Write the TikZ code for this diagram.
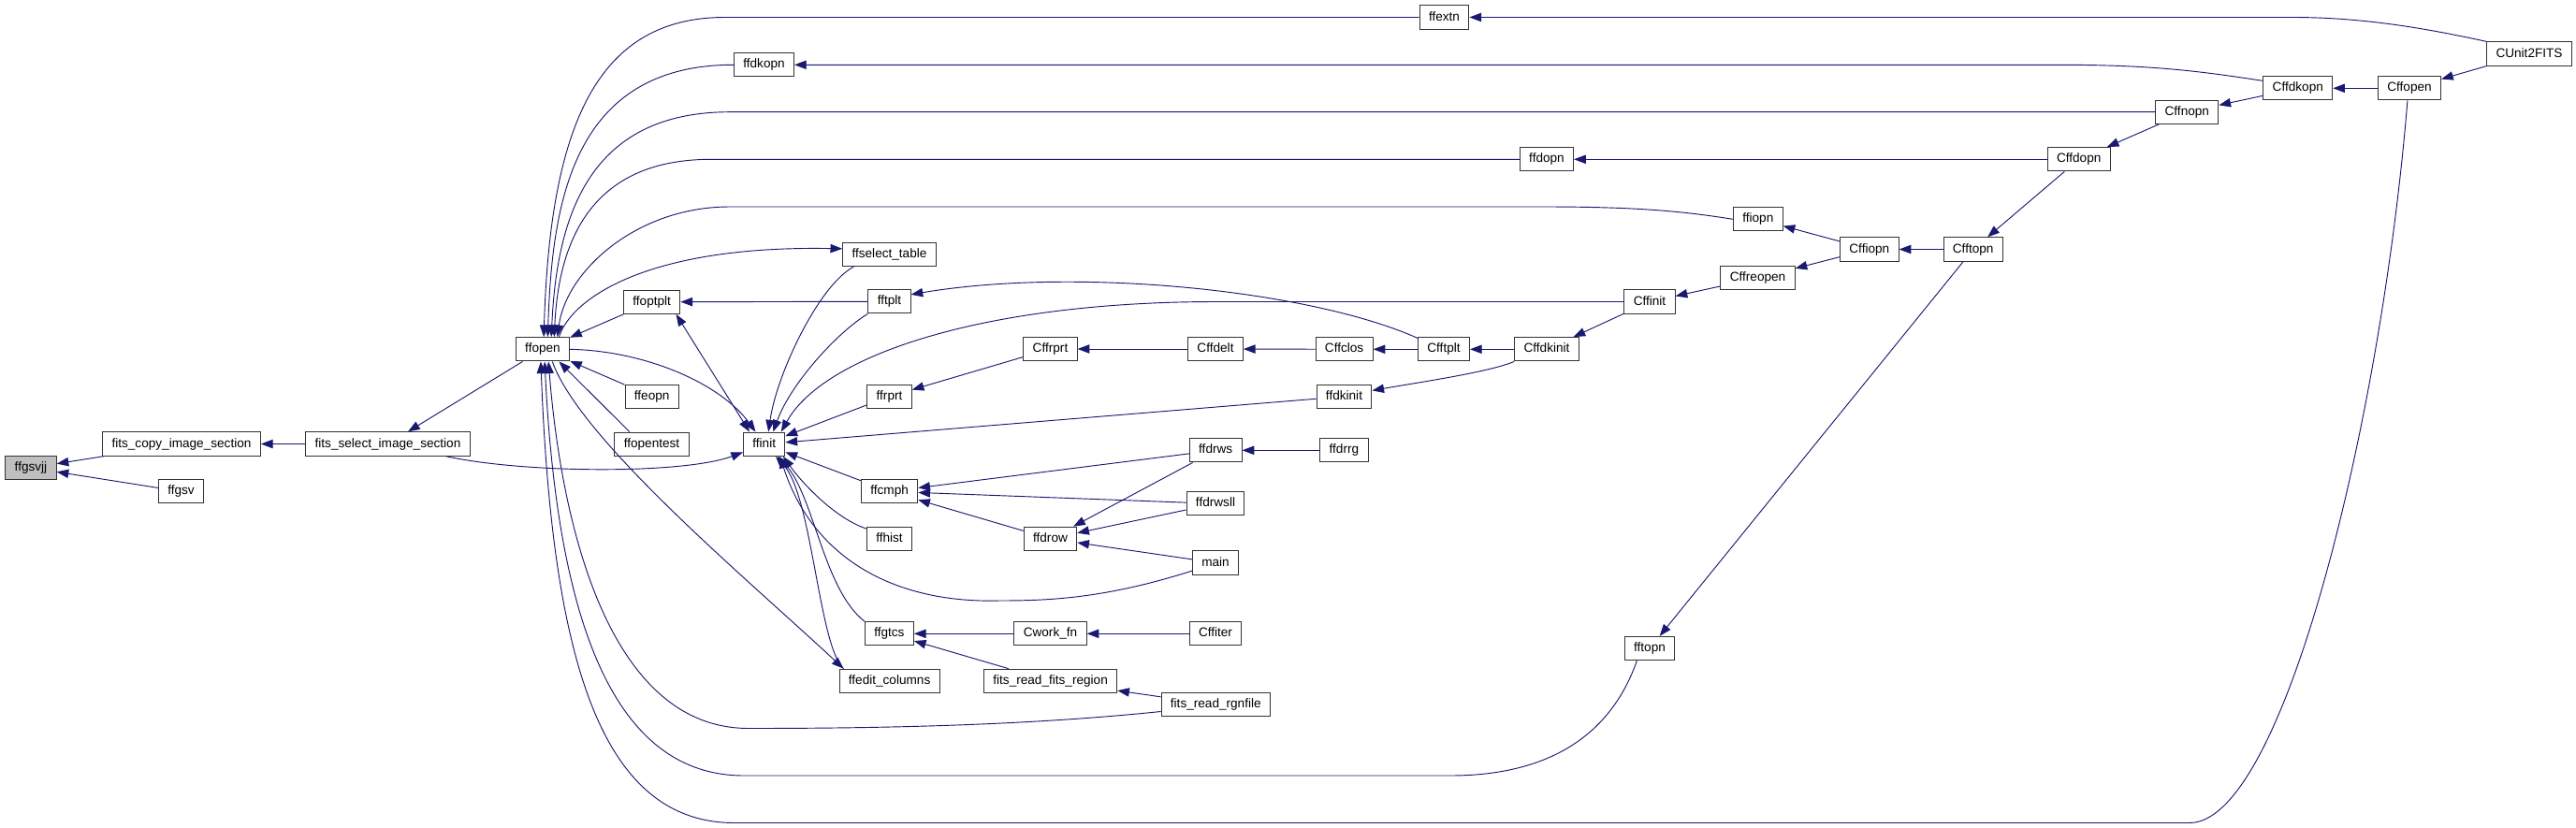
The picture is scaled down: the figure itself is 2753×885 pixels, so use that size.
\documentclass[tikz,border=0pt]{standalone}
\usepackage{fontspec}
\setmainfont{Liberation Sans}
\usetikzlibrary{arrows.meta}
\definecolor{midblue}{RGB}{25,25,112}
\definecolor{rootgray}{RGB}{191,191,191}
\begin{document}
\begin{tikzpicture}[>={Triangle[length=9.5pt,width=7pt]},x=0.75pt,y=-0.75pt,
	fn/.style={draw=black!80,line width=0.75pt,fill=white,font=\fontsize{10.2pt}{12pt}\selectfont,inner xsep=7.4pt,inner ysep=0pt,minimum height=19pt,text height=7.4pt,text depth=2pt},
	root/.style={fn,fill=rootgray},
	call/.style={draw=midblue,line width=0.7pt}]
	\fill[white] (0,0) rectangle (2753,885);
	%		nodes, left to right
	\node[root] (ffgsvjj) at (33,500) {ffgsvjj};
	\node[fn] (fcopy) at (194,474.5) {fits\_copy\_image\_section};
	\node[fn] (ffgsv) at (193.5,525.3) {ffgsv};
	\node[fn] (fselect) at (414.5,474.5) {fits\_select\_image\_section};
	\node[fn] (ffopen) at (580,373.3) {ffopen};
	\node[fn] (ffoptplt) at (696.7,322.7) {ffoptplt};
	\node[fn] (ffeopn) at (696.7,423.7) {ffeopn};
	\node[fn] (ffopentest) at (696.5,474.7) {ffopentest};
	\node[fn] (ffdkopn) at (816.5,69.3) {ffdkopn};
	\node[fn] (ffinit) at (816.7,474.7) {ffinit};
	\node[fn] (ffselect) at (950.5,272) {ffselect\_table};
	\node[fn] (fftplt) at (950.5,322.3) {fftplt};
	\node[fn] (ffrprt) at (950.5,423.7) {ffrprt};
	\node[fn] (ffcmph) at (950.6,525.3) {ffcmph};
	\node[fn] (ffhist) at (950.5,576) {ffhist};
	\node[fn] (ffgtcs) at (950.4,677.3) {ffgtcs};
	\node[fn] (ffeditcol) at (950.6,727.8) {ffedit\_columns};
	\node[fn] (Cffrprt) at (1122.5,373) {Cffrprt};
	\node[fn] (ffdrow) at (1122.5,575.8) {ffdrow};
	\node[fn] (Cworkfn) at (1122.5,677.3) {Cwork\_fn};
	\node[fn] (freadreg) at (1122.6,727.8) {fits\_read\_fits\_region};
	\node[fn] (Cffdelt) at (1299,373) {Cffdelt};
	\node[fn] (ffdrws) at (1299.2,481.3) {ffdrws};
	\node[fn] (ffdrwsll) at (1299,538.3) {ffdrwsll};
	\node[fn] (mainA) at (1299,601.5) {main};
	\node[fn] (Cffiter) at (1299,677.3) {Cffiter};
	\node[fn] (freadrgn) at (1299.3,753.3) {fits\_read\_rgnfile};
	\node[fn] (Cffclos) at (1436.6,373.3) {Cffclos};
	\node[fn] (ffdkinit) at (1436.5,423.8) {ffdkinit};
	\node[fn] (ffdrrg) at (1436.4,481.3) {ffdrrg};
	\node[fn] (ffextn) at (1543.5,18.5) {ffextn};
	\node[fn] (Cfftplt) at (1543,373.3) {Cfftplt};
	\node[fn] (ffdopn) at (1653,170.3) {ffdopn};
	\node[fn] (Cffdkinit) at (1653,373.3) {Cffdkinit};
	\node[fn] (Cffinit) at (1763,322.5) {Cffinit};
	\node[fn] (fftopn) at (1763,693) {fftopn};
	\node[fn] (ffiopn) at (1878.8,234.3) {ffiopn};
	\node[fn] (Cffreopen) at (1878.5,297.2) {Cffreopen};
	\node[fn] (Cffiopn) at (1997.8,266.5) {Cffiopn};
	\node[fn] (Cfftopn) at (2108.7,266.5) {Cfftopn};
	\node[fn] (Cffdopn) at (2221.7,170.3) {Cffdopn};
	\node[fn] (Cffnopn) at (2337.3,119.7) {Cffnopn};
	\node[fn] (Cffdkopn) at (2455.8,94.3) {Cffdkopn};
	\node[fn] (Cffopen) at (2575,94.3) {Cffopen};
	\node[fn] (CUnit) at (2703,57.5) {CUnit2FITS};
	%		calls into the left part
	\draw[call,<-] (ffgsvjj)--(fcopy);
	\draw[call,<-] (ffgsvjj)--(ffgsv);
	\draw[call,<-] (fcopy)--(fselect);
	\draw[call,<-] (fselect)--(ffopen);
	\draw[call,->] (fselect.-12) .. controls (560,506) and (730,507) .. (ffinit.201);
	%		ffopen, upper curves
	\draw[call,<-] (ffopen.85) .. controls (588,130) and (640,18.5) .. (775,18.5)--(ffextn.west);
	\draw[call,<-] (ffopen.68) .. controls (590,220) and (610,69.3) .. (ffdkopn.west);
	\draw[call,<-] (ffopen.55) .. controls (595,230) and (630,119.7) .. (780,119.7)--(Cffnopn.west);
	\draw[call,<-] (ffopen.47) .. controls (597,260) and (630,170.3) .. (760,170.3)--(ffdopn.west);
	\draw[call,<-] (ffopen.40) .. controls (605,290) and (680,221) .. (780,221)--(1650,221) .. controls (1750,221) and (1800,226) .. (ffiopn.west);
	\draw[call,->] (ffopen.37) .. controls (610,320) and (690,262) .. (ffselect.173);
	%		ffopen, lower curves
	\draw[call,->] (ffopen.-52) .. controls (620,470) and (800,620) .. (ffeditcol.165);
	\draw[call,<-] (ffopen.-65) .. controls (600,560) and (650,778.5) .. (800,778.5) .. controls (950,778.5) and (1100,775) .. (freadrgn.187);
	\draw[call,<-] (ffopen.-81) .. controls (595,650) and (650,829) .. (795,829)--(1550,829) .. controls (1650,829) and (1720,790) .. (fftopn.224);
	\draw[call,<-] (ffopen.261) .. controls (590,700) and (640,879.5) .. (785,879.5)--(2340,879.5) .. controls (2440,879.5) and (2545,450) .. (Cffopen.261);
	\draw[call,<-] (ffopen)--(ffoptplt);
	\draw[call,<-] (ffopen)--(ffeopn);
	\draw[call,<-] (ffopen.-37)--(ffopentest.151);
	%		ffinit
	\draw[call,->] (ffopen.east) .. controls (690,375) and (770,410) .. (ffinit.125);
	\draw[call,<->] (ffoptplt.-27)--(ffinit.140);
	\draw[call,<-] (ffoptplt)--(fftplt);
	\draw[call,<-] (ffinit.71) .. controls (830,400) and (875,305) .. (ffselect.199);
	\draw[call,<-] (ffinit.54) .. controls (845,410) and (895,355) .. (fftplt.south west);
	\draw[call,<-] (ffinit.36) .. controls (880,380) and (1050,322.5) .. (1300,322.5)--(Cffinit.west);
	\draw[call,<-] (ffinit)--(ffrprt);
	\draw[call,<-] (ffinit)--(ffdkinit);
	\draw[call,<-] (ffinit)--(ffcmph);
	\draw[call,<-] (ffinit.-33) .. controls (860,520) and (895,555) .. (ffhist.156);
	\draw[call,<-] (ffinit.-42) .. controls (870,530) and (880,630) .. (ffgtcs.north west);
	\draw[call,<-] (ffinit.-47) .. controls (868,530) and (875,690) .. (ffeditcol.165);
	\draw[call,<-] (ffinit.-38) .. controls (870,600) and (960,645) .. (1068,642) .. controls (1120,642) and (1180,640) .. (mainA.199);
	%		middle and right
	\draw[call,<-] (ffcmph)--(ffdrws);
	\draw[call,<-] (ffcmph)--(ffdrwsll);
	\draw[call,<-] (ffcmph)--(ffdrow);
	\draw[call,<-] (ffdrow)--(ffdrws);
	\draw[call,<-] (ffdrow)--(ffdrwsll);
	\draw[call,<-] (ffdrow)--(mainA);
	\draw[call,<-] (ffdrws)--(ffdrrg);
	\draw[call,<-] (ffrprt)--(Cffrprt);
	\draw[call,<-] (Cffrprt)--(Cffdelt);
	\draw[call,<-] (Cffdelt)--(Cffclos);
	\draw[call,<-] (Cffclos)--(Cfftplt);
	\draw[call,<-] (Cfftplt)--(Cffdkinit);
	\draw[call,<-] (fftplt.18) .. controls (1150,285) and (1400,310) .. (Cfftplt.157);
	\draw[call,<-] (ffdkinit.12) .. controls (1520,408) and (1590,398) .. (Cffdkinit.south west);
	\draw[call,<-] (Cffdkinit)--(Cffinit);
	\draw[call,<-] (Cffinit)--(Cffreopen);
	\draw[call,<-] (Cffreopen)--(Cffiopn);
	\draw[call,<-] (ffiopn)--(Cffiopn);
	\draw[call,<-] (Cffiopn)--(Cfftopn);
	\draw[call,<-] (Cfftopn)--(Cffdopn);
	\draw[call,<-] (fftopn)--(Cfftopn);
	\draw[call,<-] (ffdopn)--(Cffdopn);
	\draw[call,<-] (Cffdopn)--(Cffnopn);
	\draw[call,<-] (Cffnopn)--(Cffdkopn);
	\draw[call,<-] (ffdkopn.east)--(2200,69.3) .. controls (2300,69.3) and (2350,76) .. (Cffdkopn.168);
	\draw[call,<-] (Cffdkopn)--(Cffopen);
	\draw[call,<-] (Cffopen)--(CUnit);
	\draw[call,<-] (ffextn.east)--(2450,18.5) .. controls (2530,18.5) and (2600,32) .. (CUnit.north west);
	\draw[call,<-] (ffgtcs)--(Cworkfn);
	\draw[call,<-] (Cworkfn)--(Cffiter);
	\draw[call,<-] (ffgtcs)--(freadreg);
	\draw[call,<-] (freadreg)--(freadrgn);
\end{tikzpicture}
\end{document}
